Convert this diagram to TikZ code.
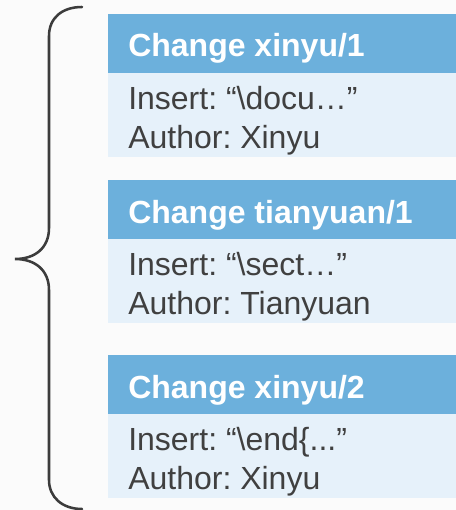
\documentclass[tikz,border=0pt]{standalone}
\usepackage{fontspec}
\setmainfont{Liberation Sans}
\frenchspacing
\definecolor{bg}{HTML}{FBFBFB}
\definecolor{head}{HTML}{6CB0DC}
\definecolor{body}{HTML}{E6F1FA}
\definecolor{ink}{HTML}{404040}
\definecolor{bracec}{HTML}{3C3C3C}
\begin{document}
\begin{tikzpicture}[x=0.75pt,y=-0.75pt,
  headbox/.style={fill=head, draw=none, anchor=north west, inner sep=0pt,
    minimum width=261pt, minimum height=44.25pt},
  bodybox/.style={fill=body, draw=none, anchor=north west, inner sep=0pt,
    minimum width=261pt, minimum height=63pt},
  title/.style={anchor=base west, inner sep=0pt, text=white,
    font=\fontsize{24}{28}\selectfont\bfseries},
  entry/.style={anchor=base west, inner sep=0pt, text=ink,
    font=\fontsize{24}{28}\selectfont},
  bracestroke/.style={draw=bracec, line width=1.9pt, line cap=round}]

% page background and fixed extent
\fill[bg] (0,0) rectangle (456,510);
\useasboundingbox (0,0) rectangle (456,510);

% change 1
\node[headbox] (h1) at (108,14) {};
\node[bodybox] (b1) at (108,73) {};
\node[title] (t1) at (128,57) {Change xinyu/1};
\node[entry] (i1) at (128,109) {Insert: “\textbackslash docu…”};
\node[entry] (a1) at (128,148) {Author: Xinyu};

% change 2
\node[headbox] (h2) at (108,180) {};
\node[bodybox] (b2) at (108,239) {};
\node[title] (t2) at (128,223) {Change tianyuan/1};
\node[entry] (i2) at (128,275) {Insert: “\textbackslash sect…”};
\node[entry] (a2) at (128,314) {Author: Tianyuan};

% change 3
\node[headbox] (h3) at (108,355) {};
\node[bodybox] (b3) at (108,414) {};
\node[title] (t3) at (128,398) {Change xinyu/2};
\node[entry] (i3) at (128,450) {Insert: “\textbackslash end\{...”};
\node[entry] (a3) at (128,489) {Author: Xinyu};

% curly brace grouping the three changes
\coordinate (btop) at (82,7);
\coordinate (btip) at (15,259);
\coordinate (bbot) at (82,509);
\draw[bracestroke] (btop) .. controls (62,7) and (49,18) .. (49,36)
  -- (49,228) .. controls (49,248) and (35,259) .. (btip)
  .. controls (35,259) and (49,270) .. (49,290)
  -- (49,480) .. controls (49,497) and (62,509) .. (bbot);
\end{tikzpicture}
\end{document}
